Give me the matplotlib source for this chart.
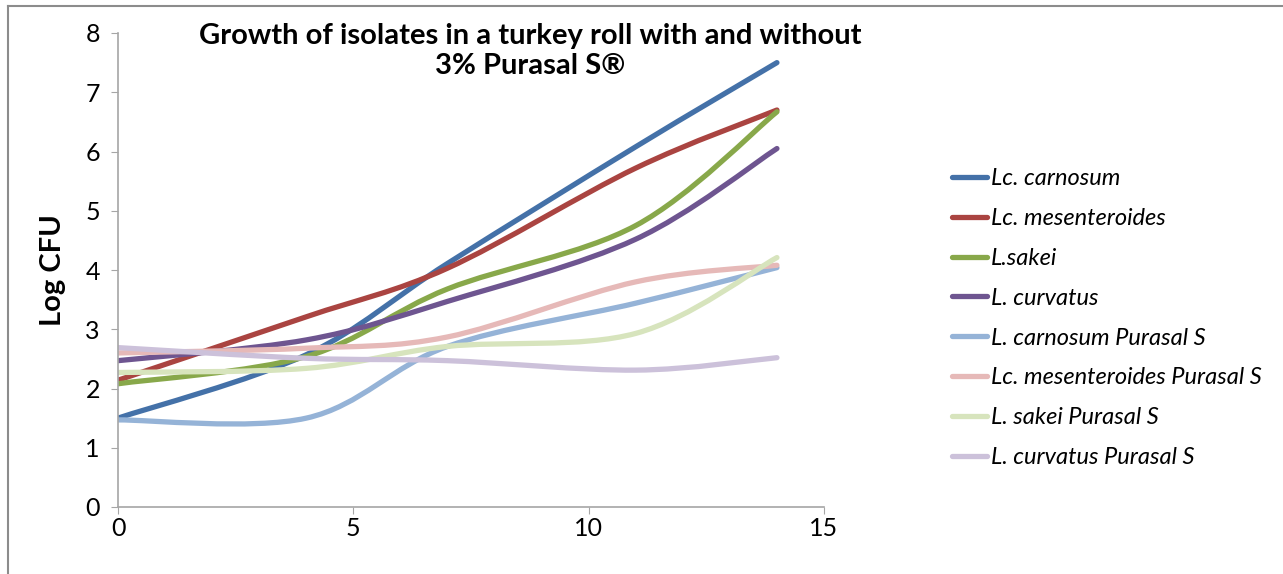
import matplotlib
matplotlib.use("Agg")
import matplotlib.pyplot as plt
from matplotlib.path import Path
from matplotlib.patches import PathPatch
from matplotlib.lines import Line2D
import numpy as np

plt.rcParams['font.family'] = ['Lato', 'DejaVu Sans']

# storage days
days = [0, 4, 7, 11, 14]

lc_carnosum = [1.50, 2.57, 4.11, 6.08, 7.50]
lc_mesenteroides = [2.14, 3.21, 4.03, 5.72, 6.70]
l_sakei = [2.08, 2.54, 3.68, 4.75, 6.67]
l_curvatus = [2.47, 2.82, 3.47, 4.52, 6.05]
lc_carnosum_ps = [1.47, 1.50, 2.71, 3.44, 4.04]
lc_mesenteroides_ps = [2.60, 2.68, 2.87, 3.80, 4.08]
l_sakei_ps = [2.27, 2.34, 2.71, 2.93, 4.21]
l_curvatus_ps = [2.69, 2.51, 2.47, 2.31, 2.52]

labels = ["Lc. carnosum", "Lc. mesenteroides", "L.sakei", "L. curvatus",
          "L. carnosum Purasal S", "Lc. mesenteroides Purasal S",
          "L. sakei Purasal S", "L. curvatus Purasal S"]
series = [lc_carnosum, lc_mesenteroides, l_sakei, l_curvatus,
          lc_carnosum_ps, lc_mesenteroides_ps, l_sakei_ps, l_curvatus_ps]
colors = ["#4471A8", "#AA4441", "#88A84A", "#6E5590",
          "#95B3D7", "#E6B9B8", "#D7E4BD", "#CCC1DA"]


def smooth_path(xs, ys):
    # excel style smoothed line: cubic bezier through the points
    pts = np.column_stack([xs, ys]).astype(float)
    n = len(pts)
    verts = [pts[0]]
    codes = [Path.MOVETO]
    for i in range(n - 1):
        p_prev = pts[i - 1] if i > 0 else pts[i]
        p_next2 = pts[i + 2] if i + 2 < n else pts[i + 1]
        c1 = pts[i] + (pts[i + 1] - p_prev) / 6.0
        c2 = pts[i + 1] - (p_next2 - pts[i]) / 6.0
        verts += [c1, c2, pts[i + 1]]
        codes += [Path.CURVE4] * 3
    return Path(verts, codes)


fig = plt.figure(figsize=(12.83, 5.74), dpi=100)
ax = fig.add_axes([118 / 1283, 1 - 507 / 574, 706 / 1283, 474 / 574])

handles = []
for vals, lab, col in zip(series, labels, colors):
    patch = PathPatch(smooth_path(days, vals), facecolor='none', edgecolor=col,
                      lw=3.8, capstyle='round', joinstyle='round')
    ax.add_patch(patch)
    handles.append(Line2D([0], [0], color=col, lw=3.8, solid_capstyle='round'))

ax.set_xlim(0, 15)
ax.set_ylim(0, 8)
ax.set_xticks([0, 5, 10, 15])
ax.set_yticks(range(0, 9))
ax.tick_params(labelsize=18, direction='out', length=5, color='#A6A6A6')
ax.tick_params(axis='x', pad=2)
ax.tick_params(axis='y', pad=8)
for s in ['top', 'right']:
    ax.spines[s].set_visible(False)
for s in ['left', 'bottom']:
    ax.spines[s].set_color('#A6A6A6')
    ax.spines[s].set_linewidth(1.2)

ax.set_ylabel("Log CFU", fontsize=21, fontweight='bold')
ax.yaxis.set_label_coords(-0.074, 0.5)

fig.text(530 / 1283, 1 - 51 / 574,
         "Growth of isolates in a turkey roll with and without\n3% Purasal S\u00ae",
         ha='center', va='center', fontsize=21, fontweight='bold', linespacing=1.22)

leg = fig.legend(handles, labels, loc='upper left',
                 bbox_to_anchor=(952 / 1283, 1 - 168 / 574), frameon=False,
                 prop={'style': 'italic', 'size': 17}, handlelength=1.5,
                 handletextpad=0.15, labelspacing=0.8, borderaxespad=0,
                 borderpad=0)

# outer chart border (top and left edges visible)
fig.add_artist(Line2D([8 / 1283, 8 / 1283], [0, 1 - 6 / 574], color='#8C8C8C', lw=1.5))
fig.add_artist(Line2D([8 / 1283, 1], [1 - 6 / 574, 1 - 6 / 574], color='#8C8C8C', lw=1.5))

fig.savefig("out.png", dpi=100)
